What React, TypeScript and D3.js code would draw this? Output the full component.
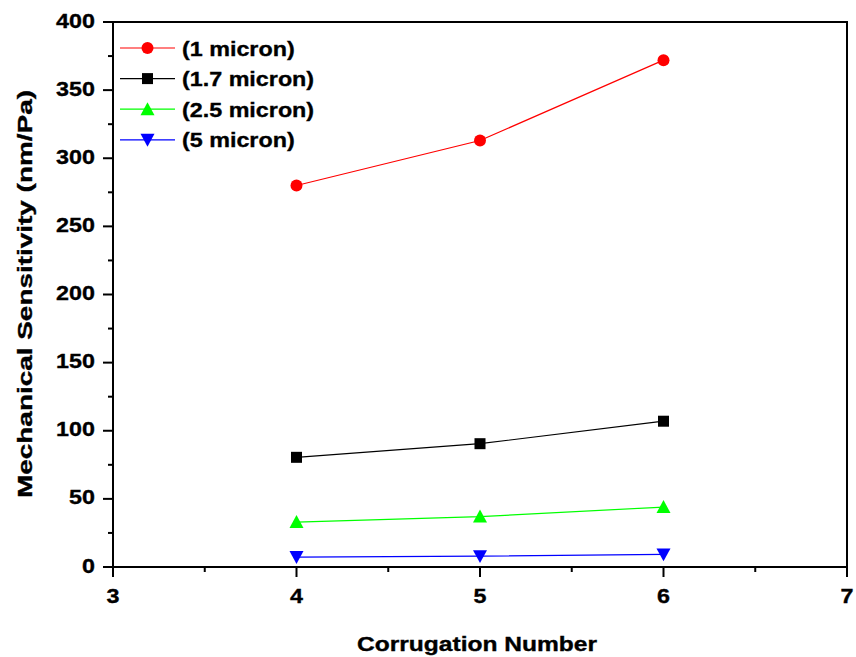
import React from "react"
import * as d3 from "d3"

// ── Data ──────────────────────────────────────────────────────────────────────

const corrugation = [4, 5, 6]
const seriesNames = ["(1 micron)", "(1.7 micron)", "(2.5 micron)", "(5 micron)"]
const sens1 = [280, 313, 372]
const sens17 = [80.5, 90.5, 107]
const sens25 = [33, 37, 44]
const sens5 = [7.3, 8, 9.3]
const xTicks = [3, 4, 5, 6, 7]
const yTicks = [0, 50, 100, 150, 200, 250, 300, 350, 400]

const SERIES = [
  { name: seriesNames[0], values: sens1, color: "#ff0000", marker: "circle" },
  { name: seriesNames[1], values: sens17, color: "#000000", marker: "square" },
  { name: seriesNames[2], values: sens25, color: "#00ff00", marker: "up" },
  { name: seriesNames[3], values: sens5, color: "#0000ff", marker: "down" },
]

const W = 856
const H = 657
const margin = { top: 22, right: 9, bottom: 90, left: 113 }
const FONT = "Arial, 'Liberation Sans', sans-serif"

// Origin exports the labels a bit wider than Arial
function measure(text: string, size: number) {
  const c = document.createElement("canvas").getContext("2d")
  if (!c) return text.length * size * 0.55
  c.font = `bold ${size}px Arial, 'Liberation Sans', sans-serif`
  return c.measureText(text).width
}

const Marker = ({ type, x, y, color }: { type: string; x: number; y: number; color: string }) => {
  if (type === "circle") return <circle cx={x} cy={y} r={6} fill={color} />
  if (type === "square")
    return <rect x={x - 5.5} y={y - 5.5} width={11} height={11} fill={color} />
  const s = 7
  if (type === "up")
    return (
      <path
        d={`M${x},${y - s} L${x + s},${y + s * 0.85} L${x - s},${y + s * 0.85} Z`}
        fill={color}
      />
    )
  return (
    <path
      d={`M${x},${y + s} L${x + s},${y - s * 0.85} L${x - s},${y - s * 0.85} Z`}
      fill={color}
    />
  )
}

export default function App() {
  const x = d3.scaleLinear().domain([3, 7]).range([margin.left, W - margin.right])
  const y = d3.scaleLinear().domain([0, 400]).range([H - margin.bottom, margin.top])
  const line = d3
    .line<number>()
    .x((_, i) => x(corrugation[i]))
    .y(d => y(d))

  const x0 = x.range()[0]
  const x1 = x.range()[1]
  const y0 = y.range()[0]
  const y1 = y.range()[1]

  const minorY = d3.range(25, 400, 50)
  const minorX = d3.range(3.5, 7, 1)

  const tickSize = 21
  const stretch = 1.11
  // heavier look of the exported bold text
  const textStyle = { stroke: "#000", strokeWidth: 0.35 }

  return (
    <>
      <style>{`body{margin:0}`}</style>
      <svg width={W} height={H} style={{ display: "block", background: "#fff" }}>
        {/* Series */}
        {SERIES.map(s => (
          <g key={s.name}>
            <path d={line(s.values) || ""} fill="none" stroke={s.color} strokeWidth={1.2} />
            {s.values.map((v, i) => (
              <Marker key={i} type={s.marker} x={x(corrugation[i])} y={y(v)} color={s.color} />
            ))}
          </g>
        ))}

        {/* Frame */}
        <rect x={x0} y={y1} width={x1 - x0} height={y0 - y1} fill="none" stroke="#000" strokeWidth={2} />

        {/* Y ticks */}
        {yTicks.map(t => (
          <g key={t}>
            <line x1={x0 - 10} x2={x0} y1={y(t)} y2={y(t)} stroke="#000" strokeWidth={2} />
            <text
              x={x0 - 18}
              y={y(t) + 5.5}
              textAnchor="end"
              fontFamily={FONT}
              fontWeight="bold"
              fontSize={tickSize}
              style={textStyle}
              textLength={measure(String(t), tickSize) * stretch}
              lengthAdjust="spacingAndGlyphs"
            >
              {t}
            </text>
          </g>
        ))}
        {minorY.map(t => (
          <line key={t} x1={x0 - 5} x2={x0} y1={y(t)} y2={y(t)} stroke="#000" strokeWidth={2} />
        ))}

        {/* X ticks */}
        {xTicks.map(t => (
          <g key={t}>
            <line x1={x(t)} x2={x(t)} y1={y0} y2={y0 + 10} stroke="#000" strokeWidth={2} />
            <text
              x={x(t)}
              y={y0 + 36}
              textAnchor="middle"
              fontFamily={FONT}
              fontWeight="bold"
              fontSize={tickSize}
              style={textStyle}
              textLength={measure(String(t), tickSize) * stretch}
              lengthAdjust="spacingAndGlyphs"
            >
              {t}
            </text>
          </g>
        ))}
        {minorX.map(t => (
          <line key={t} x1={x(t)} x2={x(t)} y1={y0} y2={y0 + 5} stroke="#000" strokeWidth={2} />
        ))}

        {/* Axis titles */}
        <text
          x={(x0 + x1) / 2 - 3}
          y={651}
          textAnchor="middle"
          fontFamily={FONT}
          fontWeight="bold"
          fontSize={20}
          style={textStyle}
          textLength={240}
          lengthAdjust="spacingAndGlyphs"
        >
          Corrugation Number
        </text>
        <text
          transform={`translate(32,294) rotate(-90)`}
          textAnchor="middle"
          fontFamily={FONT}
          fontWeight="bold"
          fontSize={20}
          style={textStyle}
          textLength={408}
          lengthAdjust="spacingAndGlyphs"
        >
          Mechanical Sensitivity (nm/Pa)
        </text>

        {/* Legend */}
        {SERIES.map((s, i) => {
          const ly = 48 + i * 30.6
          return (
            <g key={`lg-${s.name}`}>
              <line x1={120} x2={175} y1={ly} y2={ly} stroke={s.color} strokeWidth={1.2} />
              <Marker type={s.marker} x={147.5} y={ly} color={s.color} />
              <text
                x={182}
                y={ly + 7.5}
                fontFamily={FONT}
                fontWeight="bold"
                fontSize={21}
                style={textStyle}
                textLength={measure(s.name, 21) * stretch}
                lengthAdjust="spacingAndGlyphs"
              >
                {s.name}
              </text>
            </g>
          )
        })}
      </svg>
    </>
  )
}
